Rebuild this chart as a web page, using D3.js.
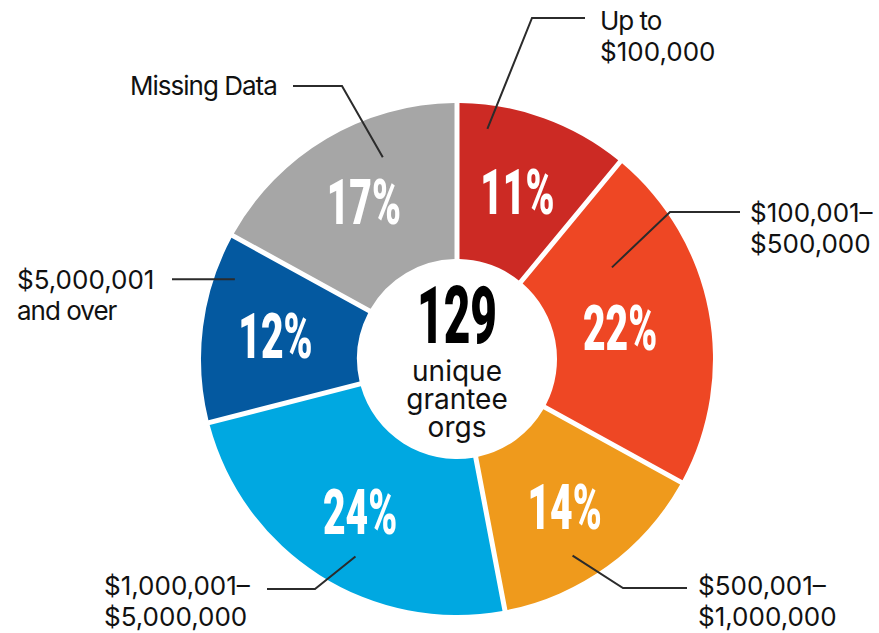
<!DOCTYPE html>
<html>
<head>
<meta charset="utf-8">
<script src="https://cdn.jsdelivr.net/npm/d3@7"></script>
<style>
  html, body { margin: 0; padding: 0; background: #fff; }
  svg { display: block; }
</style>
</head>
<body>
<svg id="chart" width="879" height="633"></svg>
<script>
// ---- Data ----
const categories = ["Up to $100,000", "$100,001–$500,000", "$500,001–$1,000,000", "$1,000,001–$5,000,000", "$5,000,001 and over", "Missing Data"];
const labelLines = [["Up to", "$100,000"], ["$100,001–", "$500,000"], ["$500,001–", "$1,000,000"], ["$1,000,001–", "$5,000,000"], ["$5,000,001", "and over"], ["Missing Data"]];
const values = [11, 22, 14, 24, 12, 17];
const colors = ["#cc2a24", "#ee4724", "#ef9a1c", "#00a8e1", "#0459a0", "#a6a6a6"];
const centerNumber = "129";
const centerLines = ["unique", "grantee", "orgs"];

// ---- Layout (annotation placement) ----
const cx = 457, cy = 359, R = 256, R0 = 100, gap = 5;
const pctRadius = [178, 166, 183, 181, 183, 183];
const labelLayout = [
  { tx: 600, ty: 30, lineY: 18, lineX0: 585, elbowX: 532, frac: 0.19, r: 232 },
  { tx: 750, ty: 222, lineY: 212, lineX0: 740, elbowX: 670, frac: 0.25, r: 180 },
  { tx: 698, ty: 595, lineY: 588, lineX0: 687, elbowX: 623, frac: 0.61, r: 228 },
  { tx: 104, ty: 595, lineY: 589, lineX0: 267, elbowX: 315, frac: 0.44, r: 222 },
  { tx: 17, ty: 289, lineY: null, lineX0: 172, elbowX: null, frac: 0.79, r: 236 },
  { tx: 130, ty: 95, lineY: 86, lineX0: 293, elbowX: 342, frac: 0.67, r: 215 }
];

const svg = d3.select("#chart");
const g = svg.append("g").attr("transform", `translate(${cx},${cy})`);

const pie = d3.pie().sort(null).value(d => d)(values);
const arc = d3.arc().innerRadius(R0).outerRadius(R).padAngle(gap / R).padRadius(R);

g.selectAll("path.slice").data(pie).join("path")
  .attr("class", "slice")
  .attr("d", arc)
  .attr("fill", (d, i) => colors[i]);

// percentage labels
g.selectAll("text.pct").data(pie).join("text")
  .attr("class", "pct")
  .attr("transform", (d, i) => {
    const a = (d.startAngle + d.endAngle) / 2;
    const r = pctRadius[i];
    return `translate(${r * Math.sin(a)},${-r * Math.cos(a)}) scale(0.62,1)`;
  })
  .attr("text-anchor", "middle")
  .attr("dy", "0.355em")
  .attr("font-family", "Roboto, 'DejaVu Sans', sans-serif")
  .attr("font-weight", 900)
  .attr("font-size", 63)
  .attr("fill", "#fff")
  .text(d => d.value + "%");

// center text (one text block)
const ct = g.append("text")
  .attr("text-anchor", "middle")
  .attr("fill", "#111");
ct.append("tspan")
  .attr("x", 0)
  .attr("y", 343 - cy)
  .attr("font-family", "Roboto, 'DejaVu Sans', sans-serif")
  .attr("font-weight", 900)
  .attr("font-size", 79)
  .attr("fill", "#000")
  .attr("textLength", 80)
  .attr("lengthAdjust", "spacingAndGlyphs")
  .text(centerNumber);
centerLines.forEach((line, i) => {
  ct.append("tspan")
    .attr("x", 0)
    .attr("y", 381 - cy + i * 28)
    .attr("font-family", "Inter, 'Open Sans', sans-serif")
    .attr("font-size", 28)
    .text(line);
});

// leader lines and outside labels
const ann = svg.append("g");
pie.forEach((d, i) => {
  const L = labelLayout[i];
  const a = d.startAngle + (d.endAngle - d.startAngle) * L.frac;
  const px = cx + L.r * Math.sin(a), py = cy - L.r * Math.cos(a);
  const pts = L.elbowX === null
    ? [[L.lineX0, py], [px, py]]
    : [[L.lineX0, L.lineY], [L.elbowX, L.lineY], [px, py]];
  ann.append("path")
    .attr("d", d3.line()(pts))
    .attr("fill", "none")
    .attr("stroke", "#2b2b2b")
    .attr("stroke-width", 2);
  const t = ann.append("text")
    .attr("font-family", "Inter, 'Open Sans', sans-serif")
    .attr("font-size", 26)
    .attr("fill", "#111");
  labelLines[i].forEach((line, j) => {
    t.append("tspan")
      .attr("x", L.tx)
      .attr("y", L.ty + j * 31)
      .attr("letter-spacing", /\d/.test(line) ? 0 : -1)
      .text(line);
  });
});
</script>
</body>
</html>
